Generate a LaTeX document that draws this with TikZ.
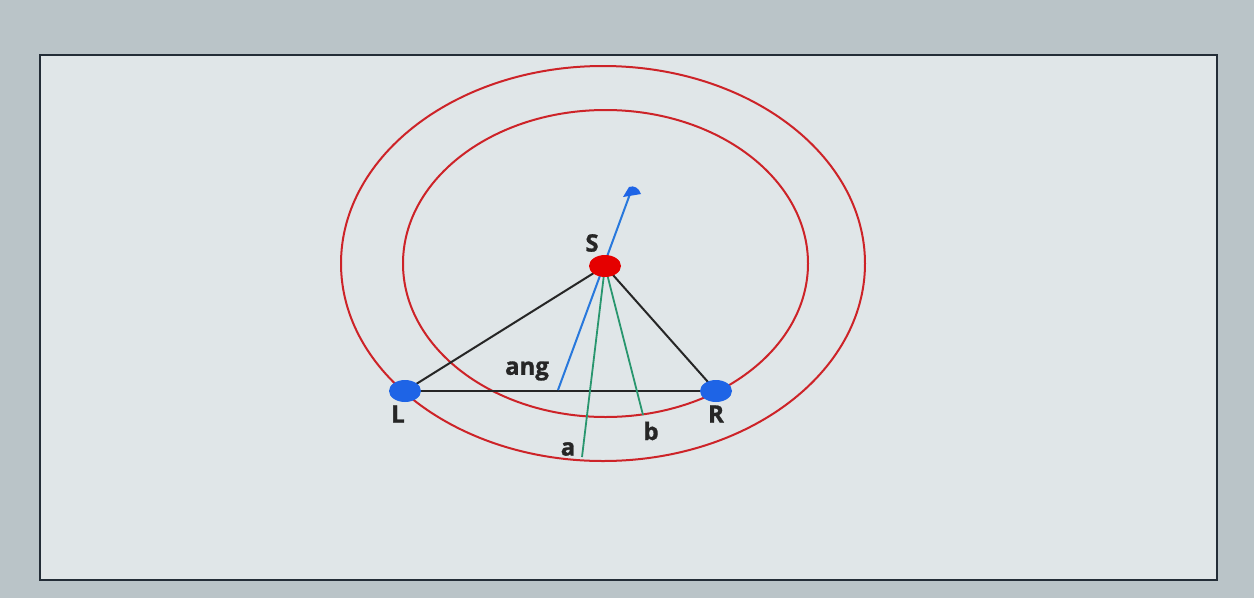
\documentclass[tikz,border=0pt]{standalone}
\usepackage{fontspec}
\setmainfont{Open Sans}[FakeBold=1.2]
\usetikzlibrary{shapes.geometric}
\definecolor{bgout}{RGB}{186,196,200}
\definecolor{bgin}{RGB}{224,230,232}
\definecolor{ringred}{RGB}{205,35,40}
\definecolor{dotblue}{RGB}{30,100,230}
\definecolor{lineblue}{RGB}{40,120,220}
\definecolor{linegreen}{RGB}{40,150,110}
\definecolor{framec}{RGB}{35,45,55}
\begin{document}
\begin{tikzpicture}[x=1pt,y=-1pt,
  ring/.style={draw=ringred,line width=2pt},
  seg/.style={draw=black!85,line width=2pt},
  ray/.style={draw=linegreen,line width=1.8pt},
  lbl/.style={font=\fontsize{24}{28}\selectfont\bfseries,text=black!85,inner sep=0pt},
  pt/.style={ellipse,minimum width=32pt,minimum height=22pt,inner sep=0pt}]
\useasboundingbox (0,0) rectangle (1254,598);
\fill[bgout] (0,0) rectangle (1254,598);
\fill[bgin] (40,55) rectangle (1217,580);
\draw[framec,line width=2.2pt] (40,55) rectangle (1217,580);
\draw[ring] (603,263.5) ellipse [x radius=262,y radius=197.5];
\draw[ring] (605.5,263.5) ellipse [x radius=202.5,y radius=153.5];
\coordinate (S) at (605,266);
\coordinate (L) at (405,391);
\coordinate (R) at (716,391);
\coordinate (angbot) at (558,390);
\coordinate (angtop) at (630,194);
\coordinate (aend) at (582,457);
\coordinate (bend) at (643,415);
\draw[seg] (L) -- (R);
\draw[seg] (L) -- (S);
\draw[seg] (R) -- (S);
\draw[ray] (S) -- (aend);
\draw[ray] (S) -- (bend);
\draw[draw=lineblue,line width=2pt] (angbot) -- (angtop);
\fill[dotblue] (623,197) -- (629,187) .. controls (634,185) and (639,188) .. (641,194) -- cycle;
\node[pt,fill=red!90!black] (Sdot) at (S) {};
\node[pt,fill=dotblue] (Ldot) at (L) {};
\node[pt,fill=dotblue] (Rdot) at (R) {};
\node[lbl] (Slbl) at (592,243) {S};
\node[lbl] (anglbl) at (527,371) {ang};
\node[lbl] (Llbl) at (398,414) {L};
\node[lbl] (Rlbl) at (716,414) {R};
\node[lbl] (albl) at (568,449) {a};
\node[lbl] (blbl) at (651,431) {b};
\end{tikzpicture}
\end{document}
